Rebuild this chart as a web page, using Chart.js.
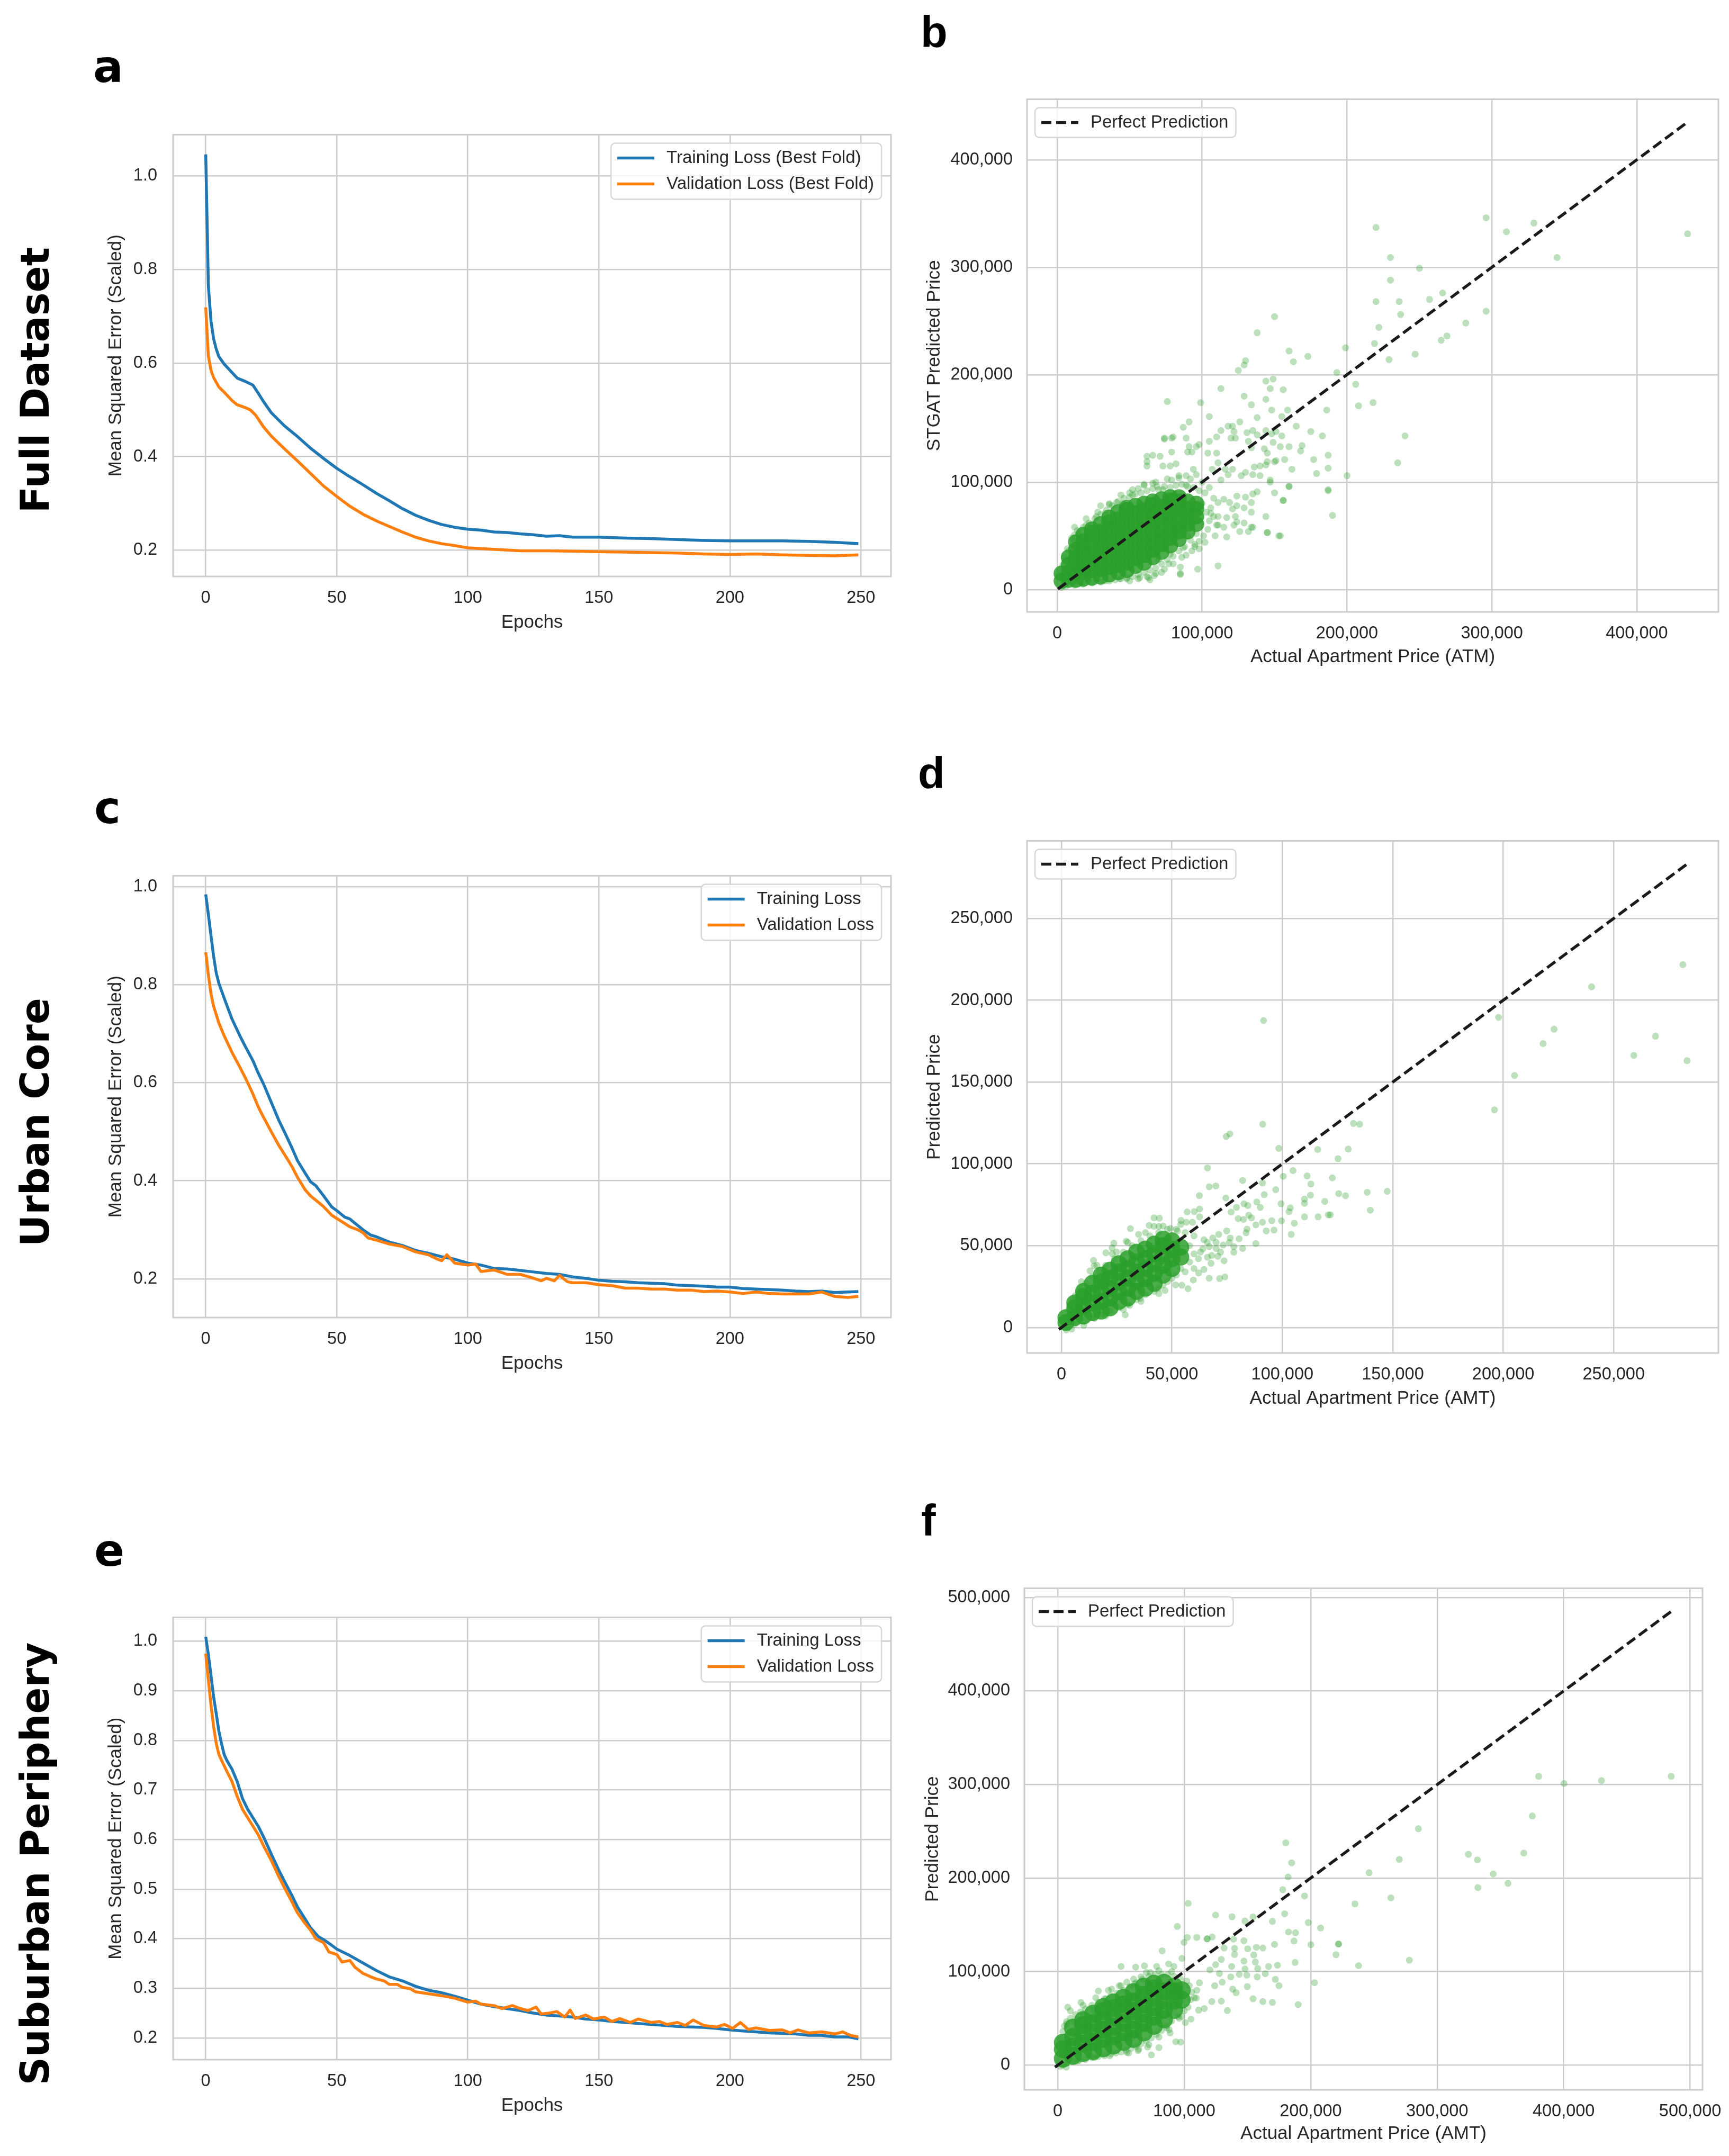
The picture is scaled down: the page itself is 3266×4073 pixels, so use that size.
<!DOCTYPE html>
<html>
<head>
<meta charset="utf-8">
<script src="https://cdn.jsdelivr.net/npm/chart.js@4.4.1/dist/chart.umd.min.js"></script>
<style>
  body { margin: 0; background: #fff; width: 3266px; height: 4073px; position: relative; overflow: hidden; }
  canvas { position: absolute; }
  .row { position: absolute; font: bold 74px "DejaVu Sans"; line-height: 1; color: #000;
         white-space: nowrap; transform: translate(-50%, -50%) rotate(-90deg); }
  .tag { position: absolute; font-weight: bold; line-height: 1; color: #000; }
</style>
</head>
<body>
<div class="row" style="left:66px;top:718px">Full Dataset</div>
<div class="row" style="left:66px;top:2120px">Urban Core</div>
<div class="row" style="left:66px;top:3521px">Suburban Periphery</div>

<div class="tag" style="left:176px;top:84px;font-family:'DejaVu Sans';font-size:84px">a</div>
<div class="tag" style="left:178px;top:1484px;font-family:'DejaVu Sans';font-size:84px">c</div>
<div class="tag" style="left:178px;top:2887px;font-family:'DejaVu Sans';font-size:84px">e</div>
<div class="tag" style="left:1739px;top:19px;font-family:'Liberation Sans';font-size:83px">b</div>
<div class="tag" style="left:1734px;top:1419px;font-family:'Liberation Sans';font-size:83px">d</div>
<div class="tag" style="left:1740px;top:2831px;font-family:'Liberation Sans';font-size:83px">f</div>

<canvas id="pa"></canvas>
<canvas id="pb"></canvas>
<canvas id="pc"></canvas>
<canvas id="pd"></canvas>
<canvas id="pe"></canvas>
<canvas id="pf"></canvas>

<script>
// ---- loss curves (epoch, MSE scaled) ----
const epochTicks = [0, 50, 100, 150, 200, 250];

const epTrainA = [0,1,2,3,4,5,7,10,12,15,18,20,22,25,30,35,40,45,50,55,60,65,70,75,80,85,90,95,100,105,110,115,120,125,130,135,140,145,150,160,170,180,190,200,210,220,230,240,249];
const lossTrainA = [1.046,0.765,0.690,0.652,0.630,0.614,0.598,0.580,0.568,0.561,0.553,0.536,0.518,0.494,0.466,0.443,0.418,0.396,0.375,0.357,0.340,0.322,0.306,0.289,0.275,0.264,0.255,0.249,0.245,0.243,0.239,0.238,0.235,0.233,0.230,0.231,0.228,0.228,0.228,0.226,0.225,0.223,0.221,0.220,0.220,0.220,0.219,0.217,0.214];
const epValA = [0,1,2,3,5,7,10,12,15,17,19,22,25,30,35,40,45,50,55,60,65,70,75,80,85,90,95,100,110,120,130,140,150,160,170,180,190,200,210,220,230,240,249];
const lossValA = [0.719,0.615,0.585,0.569,0.549,0.538,0.520,0.511,0.505,0.500,0.489,0.464,0.444,0.417,0.391,0.364,0.337,0.315,0.294,0.277,0.263,0.251,0.239,0.228,0.220,0.214,0.210,0.205,0.202,0.199,0.199,0.198,0.197,0.196,0.195,0.194,0.192,0.191,0.192,0.190,0.189,0.188,0.190];

const epTrainC = [0,1,2,3,4,5,7,10,13,15,18,20,22,25,28,30,33,35,38,40,42,45,48,50,53,55,57,60,63,65,70,75,80,85,90,95,100,105,110,115,120,125,130,135,140,145,150,155,160,165,170,175,180,185,190,195,200,205,210,215,220,225,230,235,240,245,249];
const lossTrainC = [0.984,0.943,0.900,0.858,0.824,0.803,0.773,0.730,0.696,0.675,0.645,0.620,0.598,0.560,0.522,0.500,0.466,0.441,0.415,0.398,0.390,0.369,0.347,0.339,0.326,0.322,0.313,0.300,0.289,0.286,0.275,0.268,0.258,0.252,0.245,0.240,0.232,0.228,0.221,0.220,0.217,0.214,0.211,0.209,0.204,0.201,0.197,0.195,0.194,0.192,0.191,0.190,0.187,0.186,0.185,0.183,0.183,0.180,0.179,0.178,0.177,0.175,0.174,0.175,0.172,0.173,0.174];
const epValC = [0,1,2,3,5,7,10,13,15,18,20,22,25,28,30,33,35,38,40,43,45,48,50,53,55,58,60,62,65,70,75,80,85,88,90,92,95,100,103,105,110,115,120,124,128,130,133,135,138,140,145,150,155,160,165,170,175,180,185,190,195,200,205,210,215,220,225,230,235,240,245,249];
const lossValC = [0.866,0.820,0.781,0.756,0.722,0.696,0.662,0.632,0.611,0.577,0.551,0.530,0.500,0.471,0.454,0.428,0.407,0.381,0.369,0.356,0.347,0.330,0.323,0.313,0.306,0.300,0.294,0.283,0.279,0.271,0.266,0.255,0.249,0.241,0.237,0.249,0.232,0.228,0.230,0.215,0.218,0.209,0.209,0.203,0.196,0.201,0.196,0.207,0.194,0.192,0.192,0.188,0.186,0.181,0.181,0.179,0.179,0.177,0.177,0.174,0.175,0.173,0.170,0.173,0.170,0.169,0.169,0.169,0.173,0.164,0.162,0.164];

const epTrainE = [0,1,2,3,4,5,6,7,8,10,12,14,16,18,20,22,25,28,30,33,35,38,40,43,45,48,50,55,60,65,70,75,80,85,90,95,100,105,110,115,120,125,130,135,140,145,150,155,160,165,170,175,180,185,190,195,200,205,210,215,220,225,230,235,240,245,249];
const lossTrainE = [1.009,0.973,0.931,0.888,0.854,0.819,0.794,0.772,0.760,0.742,0.717,0.683,0.661,0.644,0.627,0.606,0.571,0.537,0.516,0.486,0.464,0.439,0.422,0.404,0.398,0.387,0.379,0.366,0.351,0.336,0.323,0.315,0.304,0.296,0.291,0.284,0.276,0.268,0.263,0.259,0.255,0.250,0.246,0.244,0.242,0.238,0.236,0.233,0.231,0.229,0.227,0.225,0.223,0.222,0.221,0.219,0.216,0.214,0.212,0.210,0.209,0.208,0.205,0.205,0.202,0.202,0.198];
const epValE = [0,1,2,3,4,5,6,8,10,12,14,16,18,20,22,25,28,30,33,35,38,40,42,45,47,50,52,55,57,60,63,65,68,70,73,75,78,80,85,90,95,100,103,105,110,113,117,120,123,126,128,131,134,137,139,141,145,148,152,155,158,162,165,170,173,176,180,183,186,190,195,198,201,204,207,210,215,220,223,226,230,235,240,243,246,249];
const lossValE = [0.975,0.922,0.871,0.828,0.794,0.772,0.760,0.738,0.717,0.687,0.661,0.644,0.627,0.610,0.588,0.558,0.524,0.503,0.473,0.452,0.430,0.417,0.400,0.392,0.373,0.368,0.353,0.356,0.342,0.330,0.323,0.319,0.315,0.308,0.308,0.302,0.299,0.293,0.289,0.285,0.280,0.272,0.274,0.268,0.265,0.259,0.265,0.259,0.255,0.262,0.248,0.250,0.253,0.242,0.256,0.239,0.246,0.238,0.242,0.233,0.239,0.231,0.238,0.231,0.233,0.227,0.231,0.225,0.236,0.225,0.222,0.227,0.219,0.231,0.217,0.220,0.215,0.216,0.210,0.216,0.210,0.212,0.208,0.212,0.205,0.202];

// ---- actual vs predicted prices, in thousands ----
const ticksB = [0, 100, 200, 300, 400];
const ticksD = [0, 50, 100, 150, 200, 250];
const ticksF = [0, 100, 200, 300, 400, 500];
const lineB = [0.5, 435.4];
const lineD = [-1.2, 283.2];
const lineF = [-2.2, 485];

// dense core, column by column: [actual, [predicted...]]
const coreB = [[3,[8,15]],[8,[9,16,23,30]],[13,[9,16,23,30,37,44]],[18,[10,17,24,31,38,45,51]],
  [24,[11,18,25,32,39,46,53,56]],[30,[12,19,26,33,40,47,54,61]],[36,[14,21,28,35,42,49,56,63,67]],
  [42,[16,23,30,37,44,51,58,65,72]],[48,[18,25,32,39,46,53,60,67,74,76]],[54,[22,29,36,43,50,57,64,71,78]],
  [60,[25,32,39,46,53,60,67,74,80]],[66,[30,37,44,51,58,65,72,79,82]],[72,[35,42,49,56,63,70,77,84]],
  [78,[41,48,55,62,69,76,83,86]],[84,[47,54,61,68,75,82,86]],[90,[54,61,68,75,82]],[96,[61,68,75,80]]];
const coreD = [[2,[3,6]],[6,[6,12,15]],[10,[7,13,19,22]],[14,[9,15,21,27]],[18,[10,16,22,28,32]],
  [22,[12,18,24,30,35]],[26,[16,22,28,34,39]],[30,[18,24,30,36,42]],[34,[22,28,34,40,46]],
  [38,[24,30,36,42,48]],[42,[27,33,39,45,51]],[46,[32,38,44,50,54]],[50,[36,42,48,53]],[54,[43,49]]];
const coreF = [[4,[7,17,24]],[12,[10,20,30,40]],[20,[13,23,33,43,48]],[28,[15,25,35,45,55]],
  [36,[18,28,38,48,58,62]],[44,[21,31,41,51,61,67]],[52,[25,35,45,55,65,72]],[60,[28,38,48,58,68,78]],
  [68,[35,45,55,65,75,84]],[76,[42,52,62,72,82,87]],[84,[49,59,69,79,88]],[92,[59,69,79,84]],[98,[70,80]]];

// halo of single points hugging each core
const haloB = [[5,30],[7,38],[10,48],[14,55],[18,58],[22,62],[26,66],[30,70],[34,74],[38,78],[42,82],[46,85],[50,86],[54,89],[58,90],[62,92],[66,94],[70,93],[74,96],[78,95],[82,97],[86,98],[90,96],[94,95],[98,92],[102,90],
  [12,58],[20,66],[28,72],[36,80],[44,88],[52,93],[60,98],[68,100],[76,103],[84,104],[92,103],[100,100],[105,95],
  [100,80],[103,72],[105,64],[104,56],[101,50],[98,45],[95,40],[106,76],[108,68],[110,60],[108,85],
  [92,46],[88,40],[84,36],[80,31],[76,28],[72,24],[68,20],[64,18],[60,16],[56,14],[52,12],[48,11],[44,10],[40,9],[36,8],[30,7],[24,6],[18,5],[12,4],[6,3],[3,2],
  [86,30],[80,24],[74,19],[68,15],[62,12],[56,10],[50,8],[70,28],[78,33],[90,50],[96,52]];
const haloD = [[3,10],[5,17],[8,22],[11,27],[14,31],[17,35],[20,38],[24,42],[28,46],[32,50],[36,53],[40,56],[44,58],[48,60],[52,60],[56,58],[60,56],[9,28],[16,38],[23,45],[30,52],[38,58],[46,62],[54,63],
  [58,50],[60,45],[62,42],[58,40],[64,48],[66,52],[70,52],[72,46],[68,44],[76,52],[78,46],[60,36],[56,34],
  [54,36],[50,30],[46,26],[42,22],[38,20],[34,17],[30,14],[26,12],[22,10],[18,8],[14,6],[10,4],[6,2],[3,0],[52,32],[48,28],[44,24],[36,16],[28,11],[20,7]];
const haloF = [[2,28],[4,36],[7,44],[10,50],[14,54],[18,57],[22,60],[27,64],[32,67],[37,71],[42,74],[47,77],[52,80],[57,84],[62,88],[67,92],[72,95],[77,97],[82,97],[87,97],[92,95],[97,92],[102,90],
  [10,58],[20,64],[30,72],[40,80],[50,85],[60,92],[70,99],[80,101],[90,100],
  [104,85],[106,78],[105,70],[103,62],[100,58],[108,72],[110,80],[112,88],[98,52],[96,50],
  [95,52],[90,47],[86,42],[82,37],[78,33],[74,29],[70,26],[66,23],[62,20],[58,18],[54,16],[50,14],[46,13],[42,12],[37,10],[32,9],[27,8],[22,6],[17,5],[12,4],[7,2],[4,0],[88,38],[80,30],[72,22],[64,17],[56,13]];

const ptsB = [[435,331],[296,346],[310,333],[329,341],[345,309],[220,337],[230,309],[230,288],[250,299],[220,268],[236,268],[237,256],[257,270],[266,276],[296,259],[282,248],[269,236],[265,232],[222,244],[219,229],[247,219],[229,214],[199,225],[150,254],[138,239],[160,222],[173,217],[163,212],[130,213],[129,209],[125,204],[193,202],[206,191],[208,171],[218,174],[240,143],[235,118],[200,106],[190,69],[187,93],[187,92],[76,175],[99,174],[113,187],[105,161],[144,194],[149,196],[156,186],[147,187],[144,177],[148,167],[134,172],[129,180],[126,156],[165,152],[155,161],[159,167],[175,147],[183,143],[186,167],[138,160],[91,156],[74,140],[79,141],[105,138],[121,152],[169,134],[168,129],[187,125],[177,121],[187,113],[179,108],[162,112],[160,96],[156,83],[153,50],[145,53],[147,102],[151,120],[144,116],[140,106],[134,72],[134,58],[132,54],[111,22],[97,19],[85,15],[65,56],[63,11],
  [74,141],[80,142],[62,124],[66,125],[71,124],[62,119],[62,115],[73,115],[78,115],[82,117],[79,128],[87,151],[89,141],[91,133],[90,128],[93,128],[96,133],[98,135],[104,127],[110,127],[110,142],[113,148],[118,152],[122,147],[120,141],[123,141],[131,146],[135,148],[138,144],[144,148],[148,145],[151,147],[155,143],[132,138],[134,132],[143,131],[145,127],[149,137],[154,133],[160,133],[157,121],[150,119],[145,119],[140,115],[136,114],[135,107],[130,109],[127,106],[121,112],[118,107],[116,112],[113,102],[111,118],[107,112],[147,100],[150,90],[156,83],[160,96],[144,68],[145,53],[154,50],[138,91],[135,89],[130,86],[124,87],[134,81],[129,76],[124,78],[121,75],[123,68],[124,63],[122,60],[129,62],[135,58],[126,54],[117,49],[109,50],[111,60],[115,58],[117,67],[111,68],[106,71],[111,81],[115,84],[119,81],[85,21],[85,14],[64,9],[57,11],[67,13],[72,16],[77,24],[89,32],[93,36],[98,38],[102,44],[95,42],[87,39],[20,60],[30,78],[36,79],[41,81],[12,51],[15,52],[8,36],[12,45],[27,68],[33,71],[45,80],[50,90],[56,94],[60,97],[66,99],[69,96],[73,93],[79,102],[84,106],[89,106],[94,112],[96,107],[89,97],[52,88],[43,71],[1,13],[4,23],[2,18],[9,27],[48,10],[43,10],[33,8]];

const ptsD = [[91.5,187.6],[281.3,221.7],[240,208.2],[197.9,189.5],[223,182.3],[218,173.5],[268.9,178],[259.1,166.3],[283.2,163.1],[205.1,154],[196,133],[132.2,124.7],[135,124.2],[91.1,124.2],[74.6,116.7],[76.2,118.3],[129.8,109],[125.2,103.1],[122.6,91.4],[138.4,82.6],[147.5,83.2],[125.5,81.8],[128.6,80.5],[139.8,71.7],[121.7,68.8],
  [66.1,97.5],[98.4,109.5],[116,108.8],[82,89.8],[66.9,86],[69.9,86.5],[62.4,80.6],[74.4,79.1],[91,88.3],[91.8,81.2],[97,84.2],[104.8,95.9],[100.4,92.4],[111.2,92.6],[112.9,87.7],[112.7,80.8],[110,78.5],[110,75.9],[119.2,77],[99.4,75.6],[103.6,73.1],[103,70.8],[88.4,76.7],[90,73.4],[84.4,74.5],[82.6,75.6],[79.2,73.4],[76.8,70.5],[110,67.6],[116.2,67.6],[120.8,68.8],[105.4,63.7],[99.6,65.2],[95.2,65.3],[91,64.3],[88,62.7],[92.7,59],[96.2,59.5],[104,56.9],[88,51.3],[84.8,68.6],[86,67],[82.4,66],[80,66.5],[56.9,70.6],[60.1,70.8],[62.5,72.4],[62.5,67.6],[54.1,65.4],[56.5,64.3],[59.3,64.3],[41.9,67],[44.3,66.8],[39.7,62.4],[44.1,61.8],[41.9,61.8],[31.2,60.4],[29.3,52.7],[23.7,51.5],[20.1,45.6],[14.5,41],[14.8,37.6],[12.9,34.6],[8.5,24.7],[6.2,19.4],[22.9,48.6],[24.9,46.1],[34.9,56.9],[49.3,60.6],[52.5,59],[62.9,46.1],[66.9,49.4],[70,48.3],[66.1,42.9],[70.8,43.5],[73.6,40.8],[67.7,39.2],[64.5,35.4],[66.9,30.1],[71.6,29.9],[74,30.9],[62.1,33.3],[59.7,29],[57.3,23.7],[54.5,25.8],[51.7,26],[46.9,22.6],[44.1,20.7],[35.7,17.8],[30.9,13.5],[28.9,7.8],[20.1,8.7],[14.9,5.5],[10.1,1.2],[4.6,-1],[2.2,-1.5],[76.4,54.7],[73.2,50.4],[78,49.4],[82,48.3],[80.4,54.2],[83.6,57.9],[84,60.1],[74.8,59],[71.2,56.9],[68.5,54.7],[64.5,53.6]];

const ptsF = [[485,308.8],[380.2,308.8],[400.3,301.1],[429.9,304.3],[375.2,266.4],[285.1,252.7],[180.3,237.7],[246.2,205.7],[270,219.9],[324.7,225.4],[331.8,219.4],[368.5,226.7],[344.3,204.4],[332.2,189.8],[356,194.3],[263.4,178.8],[235,172.4],[237.9,106.3],[278,112.2],
  [103.1,173],[94.5,148.3],[82.5,122.2],[102.4,136.5],[109.9,136.5],[122.1,137],[118.1,135],[118.1,135],[99.8,131.2],[98.2,114.2],[124.8,160.4],[137.8,158.6],[148,154.1],[154.4,158.4],[169.7,153.7],[177.9,187.6],[182.1,201.1],[184.9,216.3],[195.1,180.9],[179.4,161.8],[198.1,152.4],[207.8,146.6],[182.4,142.3],[188,141.5],[186.8,132.7],[171.4,129.1],[200.1,128.8],[222,129.5],[222,129.5],[220,118.1],[187.6,109.8],[173.7,106.8],[166.7,105.5],[157,126],[162.2,125.2],[147.2,133.1],[139,134.6],[139.8,124.8],[131.5,125.2],[139.8,118.3],[150.2,124.3],[155,117.7],[147.2,111.2],[156.2,110.2],[158.1,103.3],[164.1,97.7],[157.7,94.3],[148,102.9],[149.5,96.2],[172,91.8],[174.9,84.9],[203,88.1],[149.9,84],[154.4,70.9],[162.2,68],[169.7,67.1],[190.1,64.7],[134.1,58.3],[129.3,68.4],[141,77.4],[138.3,81.2],[130,88.7],[136.8,94.3],[143.5,97.1],[120.3,101.8],[124.8,107.4],[129.3,113],[137.5,105.5],[127.8,98],[124.1,84.9],[121.8,68],[115.8,60.5],[111.4,58.7],[109.6,71.8],[105.4,49.3],[100.9,45.5],[97.2,24.6],[93.4,25],[80,18.7],[74,10.9],[88.9,34.3],[86,39.9],[50.1,105.5],[61.6,104.8],[68.5,106.1],[78.2,105.5],[87.7,108.3],[91.9,105.5],[73.2,99],[65.8,94.3],[60.5,86.8],[54.6,88.7],[48.6,84.9],[42.6,81.2],[32.1,79.3],[18.4,67.1],[7.9,61.9],[7,46.5],[5.2,41.8],[12.7,46.5],[20.2,54.9],[27.7,58.7],[38.1,70.9],[71,19.3],[63.5,15.6],[54.6,13.7],[41.1,9.9],[29.1,8.1],[15.7,4.3],[6.7,-2.2],[2.2,-1.3]];

// ---- drawing ----
const TXT = '#262626';
const BLUE = '#1f77b4', ORANGE = '#ff7f0e';
Chart.defaults.font.family = '"Liberation Sans", Arial, sans-serif';
Chart.defaults.color = TXT;

const fmtLoss = v => v.toFixed(1);
const fmtPrice = v => String(Math.round(v)).replace(/\B(?=(\d{3})+(?!\d))/g, ',');
const PAD_TOP = 40, PAD_RIGHT = 60;

function place(id, r, wy, hx) {
    const c = document.getElementById(id);
    c.width = (r[2] - r[0]) + wy + PAD_RIGHT;
    c.height = (r[3] - r[1]) + PAD_TOP + hx;
    c.style.left = (r[0] - wy) + 'px';
    c.style.top = (r[1] - PAD_TOP) + 'px';
    return c;
}

function axis(pos, min, max, ticks, fmt, title, pad, size) {
    return {
        type: 'linear', position: pos, min: min, max: max,
        afterBuildTicks: s => { s.ticks = ticks.map(v => ({ value: v })); },
        afterFit: s => { if (pos === 'left') s.width = size; else s.height = size; },
        grid: { color: '#cccccc', lineWidth: 2.5, drawTicks: false },
        border: { display: false },
        ticks: { padding: pad, font: { size: 32.5 }, color: TXT, autoSkip: false, maxRotation: 0, callback: fmt },
        title: { display: true, text: title, font: { size: 35 }, color: TXT, padding: 0 }
    };
}

function decor(items, side) {
    return {
        id: 'decor',
        afterDatasetsDraw(chart) {
            const ctx = chart.ctx, a = chart.chartArea;
            ctx.save();
            ctx.strokeStyle = '#cccccc';
            ctx.lineWidth = 3;
            ctx.strokeRect(a.left, a.top, a.right - a.left, a.bottom - a.top);

            ctx.font = '33px "Liberation Sans", Arial, sans-serif';
            const tw = Math.max(...items.map(it => ctx.measureText(it.label).width));
            const w = 105 + tw + 14, h = 56 + (items.length - 1) * 50;
            const x = side === 'right' ? a.right - 18 - w : a.left + 15;
            const y = a.top + 16;
            ctx.beginPath();
            ctx.roundRect(x, y, w, h, 8);
            ctx.fillStyle = 'rgba(255,255,255,0.8)';
            ctx.fill();
            ctx.strokeStyle = '#d6d6d6';
            ctx.lineWidth = 2.5;
            ctx.stroke();
            items.forEach((it, i) => {
                const cy = y + 28 + i * 49;
                ctx.beginPath();
                ctx.moveTo(x + 12, cy);
                ctx.lineTo(x + 82, cy);
                ctx.strokeStyle = it.color;
                ctx.lineWidth = it.width;
                ctx.setLineDash(it.dash || []);
                ctx.stroke();
                ctx.setLineDash([]);
                ctx.fillStyle = TXT;
                ctx.textBaseline = 'middle';
                ctx.textAlign = 'left';
                ctx.fillText(it.label, x + 105, cy);
            });
            ctx.restore();
        }
    };
}

const baseOpts = (scales) => ({
    responsive: false, devicePixelRatio: 1, animation: false, events: [],
    layout: { padding: { top: PAD_TOP, right: PAD_RIGHT, left: 0, bottom: 0 }, autoPadding: false },
    plugins: { legend: { display: false }, tooltip: { enabled: false } },
    scales: scales
});

function lossChart(id, rect, yMin, yMax, yTicks, epT, lossT, epV, lossV, names) {
    const c = place(id, rect, 129, 108);
    const line = (ep, vals, color) => ({
        data: ep.map((e, i) => ({ x: e, y: vals[i] })),
        showLine: true, borderColor: color, borderWidth: 5.5, pointRadius: 0,
        tension: 0, borderJoinStyle: 'round', fill: false
    });
    new Chart(c, {
        type: 'scatter',
        data: { datasets: [line(epV, lossV, ORANGE), line(epT, lossT, BLUE)] },
        options: baseOpts({
            x: axis('bottom', -12.45, 261.45, epochTicks, v => String(v), 'Epochs', 22, 108),
            y: axis('left', yMin, yMax, yTicks, fmtLoss, 'Mean Squared Error (Scaled)', 30, 129)
        }),
        plugins: [decor([
            { label: names[0], color: BLUE, width: 5.5 },
            { label: names[1], color: ORANGE, width: 5.5 }
        ], 'right')]
    });
}

function priceChart(id, rect, wy, hx, lim, ticks, line, core, pts, coreR, xTitle, yTitle) {
    const c = place(id, rect, wy, hx);
    const k = v => v * 1000;
    const tk = ticks.map(k);
    new Chart(c, {
        type: 'scatter',
        data: {
            datasets: [
                { data: line.map(v => ({ x: k(v), y: k(v) })), showLine: true, borderColor: '#1a1a1a',
                  borderWidth: 5.5, borderDash: [19, 9], pointRadius: 0, tension: 0 },
                { data: core.flatMap(([x, ys]) => ys.map(y => ({ x: k(x), y: k(y) }))),
                  pointRadius: coreR, borderWidth: 0, backgroundColor: 'rgba(44,160,44,0.85)' },
                { data: pts.map(p => ({ x: k(p[0]), y: k(p[1]) })),
                  pointRadius: 6.5, borderWidth: 0, backgroundColor: 'rgba(44,160,44,0.32)' }
            ]
        },
        options: baseOpts({
            x: axis('bottom', k(lim[0]), k(lim[1]), tk, fmtPrice, xTitle, 22, hx),
            y: axis('left', k(lim[0]), k(lim[1]), tk, fmtPrice, yTitle, 27, wy)
        }),
        plugins: [decor([{ label: 'Perfect Prediction', color: '#1a1a1a', width: 5.5, dash: [19, 9] }], 'left')]
    });
}

lossChart('pa', [327, 245, 1683, 1089], 0.144, 1.088, [0.2, 0.4, 0.6, 0.8, 1.0],
    epTrainA, lossTrainA, epValA, lossValA, ['Training Loss (Best Fold)', 'Validation Loss (Best Fold)']);
lossChart('pc', [327, 1645, 1683, 2489], 0.121, 1.022, [0.2, 0.4, 0.6, 0.8, 1.0],
    epTrainC, lossTrainC, epValC, lossValC, ['Training Loss', 'Validation Loss']);
lossChart('pe', [327, 3046, 1683, 3891], 0.156, 1.048, [0.2, 0.3, 0.4, 0.5, 0.6, 0.7, 0.8, 0.9, 1.0],
    epTrainE, lossTrainE, epValE, lossValE, ['Training Loss', 'Validation Loss']);

priceChart('pb', [1940, 181, 3246, 1156], 196, 106, [-20.8, 456.3], ticksB, lineB, coreB, ptsB.concat(haloB), 15,
    'Actual Apartment Price (ATM)', 'STGAT Predicted Price');
priceChart('pd', [1940, 1582, 3246, 2556], 196, 107, [-15.6, 297.4], ticksD, lineD, coreD, ptsD.concat(haloD), 16,
    'Actual Apartment Price (AMT)', 'Predicted Price');
priceChart('pf', [1935, 2994, 3216, 3948], 194, 104, [-26.4, 509.8], ticksF, lineF, coreF, ptsF.concat(haloF), 17,
    'Actual Apartment Price (AMT)', 'Predicted Price');
</script>
</body>
</html>
